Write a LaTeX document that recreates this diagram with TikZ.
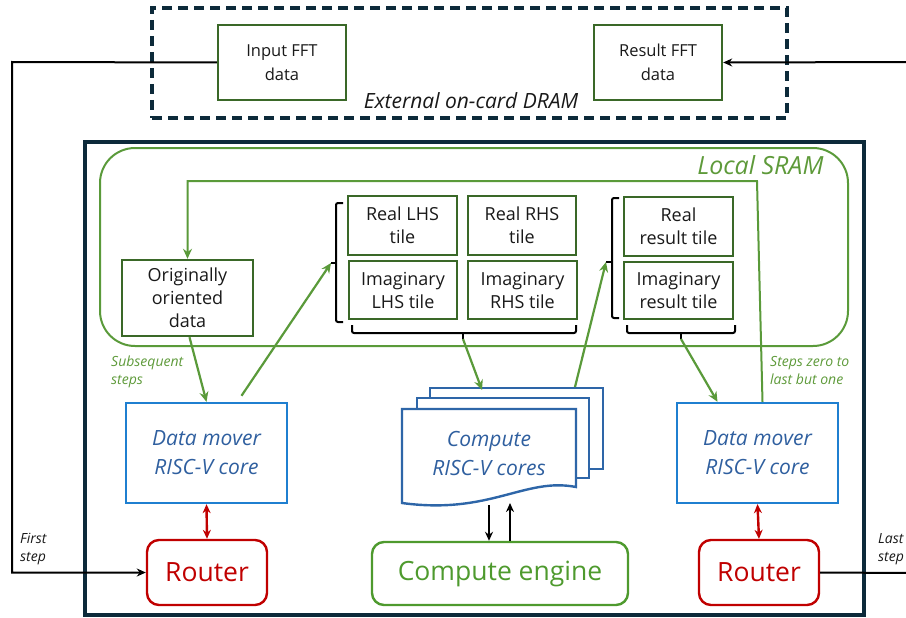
\documentclass[tikz,border=0pt]{standalone}
\usepackage{fontspec}
\setmainfont{Open Sans}
\usetikzlibrary{arrows.meta,calc}
\definecolor{navy}{HTML}{0D2A3A}
\definecolor{sramgreen}{HTML}{5A9A3A}
\definecolor{tilegreen}{HTML}{3A6828}
\definecolor{lblgreen}{HTML}{5E9A3A}
\definecolor{dmblue}{HTML}{1F7FD0}
\definecolor{stackblue}{HTML}{2E66A8}
\definecolor{txtblue}{HTML}{2F5F9F}
\definecolor{routerred}{HTML}{C00000}
\definecolor{enggreen}{HTML}{4E9A2E}
\tikzset{
  tilebox/.style={draw=tilegreen, line width=2.4pt, minimum width=#1, align=center, inner sep=0pt, text=black!90, font=\fontsize{18}{23}\selectfont},
  tilebox/.default=108pt,
  dmbox/.style={draw=dmblue, line width=2.4pt, minimum width=161pt, minimum height=100pt, align=center, text=txtblue, font=\fontsize{21}{29}\selectfont\itshape},
  routerbox/.style={draw=routerred, line width=2.4pt, rounded corners=12pt, minimum width=120pt, minimum height=65pt, text=routerred, font=\fontsize{26.5}{30}\selectfont},
  garrow/.style={draw=sramgreen, line width=2.2pt, -{Stealth[length=10pt,width=9pt]}},
  barrow/.style={draw=black, line width=2pt, -{Stealth[length=9pt,width=8pt]}},
  rarrow/.style={draw=routerred, line width=2.4pt, {Stealth[length=9pt,width=8pt]}-{Stealth[length=9pt,width=8pt]}},
  brk/.style={draw=black, line width=2pt, rounded corners=2pt},
  smalllbl/.style={font=\fontsize{14}{18}\selectfont\itshape, align=left, inner sep=0pt, anchor=north west},
}
\begin{document}
\begin{tikzpicture}[x=1pt,y=-1pt]
\useasboundingbox (0,0) rectangle (906,618);
% external DRAM
\node[draw=navy, line width=3.2pt, dash pattern=on 10pt off 6pt, minimum width=635pt, minimum height=110pt, inner sep=0pt] (dram) at (469.5,63) {};
\node[draw=tilegreen, line width=2.4pt, minimum width=128pt, minimum height=75pt, align=center, font=\fontsize{16.5}{24}\selectfont, text=black!90] (inp) at (282,62.5) {Input FFT\\data};
\node[draw=tilegreen, line width=2.4pt, minimum width=128pt, minimum height=75pt, align=center, font=\fontsize{16.5}{24}\selectfont, text=black!90] (res) at (658,62.5) {Result FFT\\data};
\node[font=\fontsize{21}{24}\selectfont\itshape, text=black!90] (dramlbl) at (471,101) {External on-card DRAM};
% outer box
\node[draw=navy, line width=3.5pt, minimum width=779pt, minimum height=473pt, inner sep=0pt] (outer) at (474.5,378.5) {};
% SRAM
\node[draw=sramgreen, line width=2pt, rounded corners=35pt, minimum width=748pt, minimum height=198pt, inner sep=0pt] (sram) at (474,247) {};
\node[font=\fontsize{25}{28}\selectfont\itshape, text=lblgreen, anchor=east] (sramlbl) at (827,165) {Local SRAM};
% data boxes
\node[tilebox=131pt, minimum height=76pt] (orig) at (187.5,298) {Originally\\oriented\\data};
\node[tilebox=109pt, minimum height=59pt] (rlhs) at (402.5,225.5) {Real LHS\\tile};
\node[tilebox=108pt, minimum height=59pt] (rrhs) at (522,225.5) {Real RHS\\tile};
\node[tilebox=108pt, minimum height=58pt] (ilhs) at (403,290) {Imaginary\\LHS tile};
\node[tilebox=109pt, minimum height=58pt] (irhs) at (522.5,290) {Imaginary\\RHS tile};
\node[tilebox=109pt, minimum height=59pt] (rres) at (678.5,226.5) {Real\\result tile};
\node[tilebox=109pt, minimum height=57pt] (ires) at (678.5,290.5) {Imaginary\\result tile};
% brackets
\draw[brk] (343,203) -- (336,203) -- (336,322) -- (343,322);
\draw[brk] (336,263) -- (331,263);
\coordinate (lbtip) at (331,263);
\draw[brk] (352,325) -- (352,333) -- (576,333) -- (576,325);
\draw[brk] (463,333) -- (463,339);
\coordinate (bbtip) at (463,339);
\draw[brk] (619,198) -- (612,198) -- (612,318) -- (619,318);
\draw[brk] (612,262) -- (606,262);
\coordinate (rbtip) at (606,262);
\draw[brk] (627,325) -- (627,333) -- (735,333) -- (735,325);
\draw[brk] (681,333) -- (681,339);
\coordinate (rrtip) at (681,339);
% data movers
\node[dmbox] (dmL) at (206.5,453) {Data mover\\RISC-V core};
\node[dmbox] (dmR) at (757.5,453) {Data mover\\RISC-V core};
% compute stack
\draw[stackblue, line width=2.4pt, fill=white] (430,469) -- (430,388) -- (603,388) -- (603,469) -- cycle;
\draw[stackblue, line width=2.4pt, fill=white] (417,478) -- (417,398) -- (589,398) -- (589,478) -- cycle;
\draw[stackblue, line width=2.4pt, fill=white] (402,503) -- (402,409) -- (576,409) -- (576,487) .. controls (525,477) and (490,515) .. (402,503) -- cycle;
\node[font=\fontsize{21}{29}\selectfont\itshape, text=txtblue, align=center] (comp) at (489,453) {Compute\\RISC-V cores};
\coordinate (compTopL) at (482,390);
\coordinate (compTopR) at (575,387);
\coordinate (compBotA) at (489,505);
\coordinate (compBotB) at (510,503);
% routers and engine
\node[routerbox] (rtL) at (207,572.5) {Router};
\node[routerbox] (rtR) at (759,572.5) {Router};
\node[draw=enggreen, line width=2.4pt, rounded corners=12pt, minimum width=256pt, minimum height=63pt, text=enggreen, font=\fontsize{26.5}{30}\selectfont] (eng) at (500,573.5) {Compute engine};
% green arrows
\coordinate (loopTR) at (757,181);
\draw[draw=sramgreen, line width=2pt, -{Stealth[length=10pt,width=9pt]}] ($(dmR.north)+(5,0)$) -- (loopTR) -| (orig.north);
\draw[garrow] ($(orig.south)+(2,0)$) -- (dmL.north);
\draw[garrow] ($(dmL.north)+(35,-6)$) -- (lbtip);
\draw[garrow] (bbtip) -- (compTopL);
\draw[garrow] (compTopR) -- (rbtip);
\draw[garrow] (rrtip) -- ($(dmR.north)+(-40,0)$);
% red arrows
\draw[rarrow] (dmL.south) -- (rtL.north);
\draw[rarrow] (dmR.south) -- (rtR.north);
% black compute arrows
\draw[barrow] (compBotA) -- (eng.north -| compBotA);
\draw[barrow] (eng.north -| compBotB) -- (compBotB);
% external lines
\coordinate (leftTop) at (12,62);
\coordinate (rightTop) at (908,62);
\coordinate (rightBot) at (908,573);
\draw[black, line width=2pt, -{Stealth[length=9pt,width=8pt]}] (inp.west) -- (leftTop) |- (rtL.west);
\draw[black, line width=2pt, -{Stealth[length=9pt,width=8pt]}] (rightTop) -- (res.east);
\draw[black, line width=2pt] (rtR.east) -- (rightBot);
% labels
\node[smalllbl, text=lblgreen] (subs) at (111,356) {Subsequent\\steps};
\node[smalllbl, text=lblgreen] (stz) at (770,356) {Steps zero to\\last but one};
\node[smalllbl, text=black!90] (first) at (20,533) {First\\step};
\node[smalllbl, text=black!90] (last) at (878,533) {Last\\step};
\end{tikzpicture}
\end{document}
